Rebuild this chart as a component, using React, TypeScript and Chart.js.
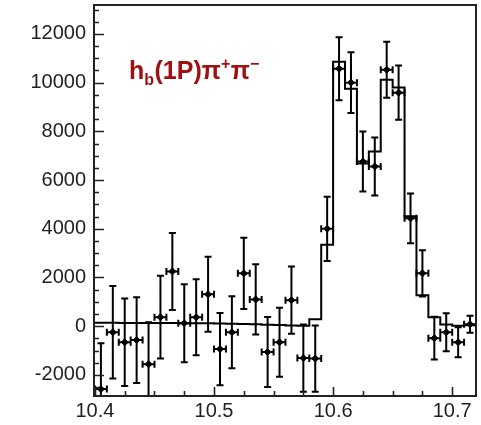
import React, { useEffect, useRef } from "react";
import { Chart, registerables } from "chart.js";

Chart.register(...registerables);

// Bin centres (GeV) of the measured points
const massCenters = [
  10.405, 10.415, 10.425, 10.435, 10.445, 10.455, 10.465, 10.475,
  10.485, 10.495, 10.505, 10.515, 10.525, 10.535, 10.545, 10.555,
  10.565, 10.575, 10.585, 10.595, 10.605, 10.615, 10.625, 10.635,
  10.645, 10.655, 10.665, 10.675, 10.685, 10.695, 10.705, 10.715,
];
// Measured yields
const yieldValues = [
  -2580, -250, -660, -570, -1560, 370, 2250, 120,
  370, 1310, -940, -250, 2170, 1100, -1060, -660,
  1070, -1310, -1330, 4000, 10570, 10000, 6760, 6560,
  10530, 9590, 4430, 2170, -490, -250, -660, 80,
];
// Vertical errors
const yieldErrors = [
  1880, 1900, 1800, 1760, 1720, 1700, 1580, 1600,
  1560, 1540, 1480, 1480, 1460, 1440, 1440, 1420,
  1380, 1380, 1360, 1320, 1290, 1250, 1230, 1190,
  1150, 1110, 1020, 950, 880, 780, 620, 350,
];
const halfBinWidth = 0.005;

// Fit histogram: bin edges and contents
const fitEdges = [
  10.40, 10.41, 10.42, 10.43, 10.44, 10.45, 10.46, 10.47, 10.48,
  10.49, 10.50, 10.51, 10.52, 10.53, 10.54, 10.55, 10.56, 10.57,
  10.58, 10.59, 10.60, 10.61, 10.62, 10.63, 10.64, 10.65, 10.66,
  10.67, 10.68, 10.69, 10.70, 10.71, 10.72,
];
const fitValues = [
  140, 138, 136, 134, 132, 130, 128, 126, 124,
  120, 112, 100, 90, 76, 60, 45, 30, 15,
  290, 3340, 10860, 9750, 6680, 7170, 10120, 9800, 4510,
  1270, 370, 70, 20, 40,
];

// Axes
const xTickValues = [10.4, 10.5, 10.6, 10.7];
const yTickValues = [-2000, 0, 2000, 4000, 6000, 8000, 10000, 12000];
const xMinorStep = 0.025;
const yMinorStep = 500;
const xRange = [10.3992, 10.72];
const yRange = [-2866, 13188];

// Label
const titleParts = [
  { text: "h", kind: "normal" },
  { text: "b", kind: "sub" },
  { text: "(1P)π", kind: "normal" },
  { text: "+", kind: "sup" },
  { text: "π", kind: "normal" },
  { text: "−", kind: "sup" },
];

const FONT = '"Liberation Sans", Arial, sans-serif';

const frameTicksPlugin = {
  id: "frameTicks",
  afterDraw(chart: any) {
    const { ctx, chartArea, scales } = chart;
    const { left, right, top, bottom } = chartArea;
    ctx.save();
    ctx.strokeStyle = "#222";
    ctx.lineWidth = 2;
    ctx.strokeRect(left, top, right - left, bottom - top);
    ctx.lineWidth = 1.6;
    ctx.beginPath();
    for (let v = -2500; v <= 13000; v += yMinorStep) {
      const py = Math.round(scales.y.getPixelForValue(v)) + 0.5;
      if (py < top || py > bottom) continue;
      const major = yTickValues.includes(v);
      ctx.moveTo(left, py);
      ctx.lineTo(left + (major ? 10 : 5), py);
    }
    for (let k = 0; k <= 13; k++) {
      const v = 10.4 + k * xMinorStep;
      const px = Math.round(scales.x.getPixelForValue(v)) + 0.5;
      if (px < left || px > right) continue;
      const major = k % 4 === 0;
      ctx.moveTo(px, bottom);
      ctx.lineTo(px, bottom - (major ? 9 : 5));
    }
    ctx.stroke();
    ctx.restore();
  },
};

const errorBarPlugin = {
  id: "errorBars",
  afterDatasetsDraw(chart: any) {
    const { ctx, chartArea, scales } = chart;
    ctx.save();
    ctx.beginPath();
    ctx.rect(chartArea.left, chartArea.top, chartArea.right - chartArea.left, chartArea.bottom - chartArea.top);
    ctx.clip();
    ctx.strokeStyle = "#000";
    ctx.lineWidth = 2;
    ctx.beginPath();
    massCenters.forEach((c, i) => {
      const px = scales.x.getPixelForValue(c);
      const py = scales.y.getPixelForValue(yieldValues[i]);
      const yHi = scales.y.getPixelForValue(yieldValues[i] + yieldErrors[i]);
      const yLo = scales.y.getPixelForValue(yieldValues[i] - yieldErrors[i]);
      const xL = scales.x.getPixelForValue(c - halfBinWidth);
      const xR = scales.x.getPixelForValue(c + halfBinWidth);
      ctx.moveTo(px, yHi);
      ctx.lineTo(px, yLo);
      ctx.moveTo(px - 3.5, yHi);
      ctx.lineTo(px + 3.5, yHi);
      ctx.moveTo(px - 3.5, yLo);
      ctx.lineTo(px + 3.5, yLo);
      ctx.moveTo(xL, py);
      ctx.lineTo(xR, py);
      ctx.moveTo(xL, py - 3.5);
      ctx.lineTo(xL, py + 3.5);
      ctx.moveTo(xR, py - 3.5);
      ctx.lineTo(xR, py + 3.5);
    });
    ctx.stroke();
    ctx.restore();
  },
};

const titlePlugin = {
  id: "titleLabel",
  afterDraw(chart: any) {
    const { ctx } = chart;
    ctx.save();
    ctx.fillStyle = "#a01010";
    ctx.textBaseline = "alphabetic";
    ctx.textAlign = "left";
    let x = 129;
    const base = 79;
    titleParts.forEach((p) => {
      const size = p.kind === "normal" ? 25 : 16;
      ctx.font = `bold ${size}px ${FONT}`;
      const y = p.kind === "sub" ? base + 6 : p.kind === "sup" ? base - 10 : base;
      ctx.fillText(p.text, x, y);
      x += ctx.measureText(p.text).width + (p.kind === "normal" ? 0 : 0.5);
    });
    ctx.restore();
  },
};

export default function App() {
  const canvasRef = useRef<HTMLCanvasElement | null>(null);

  useEffect(() => {
    const canvas = canvasRef.current;
    if (!canvas) return;
    const fitData = fitEdges.map((e, i) => ({
      x: e,
      y: fitValues[Math.min(i, fitValues.length - 1)],
    }));
    const pointData = massCenters.map((c, i) => ({ x: c, y: yieldValues[i] }));

    const chart = new Chart(canvas, {
      type: "scatter",
      data: {
        datasets: [
          {
            type: "line",
            data: fitData,
            stepped: "before",
            borderColor: "#000",
            borderWidth: 2,
            pointRadius: 0,
            fill: false,
            order: 1,
          } as any,
          {
            type: "scatter",
            data: pointData,
            pointStyle: "rectRot",
            pointRadius: 3.5,
            backgroundColor: "#000",
            borderColor: "#000",
            borderWidth: 1,
            order: 0,
          } as any,
        ],
      },
      options: {
        animation: false,
        responsive: false,
        maintainAspectRatio: false,
        devicePixelRatio: 1,
        layout: { padding: { top: 4, right: 2, left: 0, bottom: 0 } },
        plugins: {
          legend: { display: false },
          tooltip: { enabled: false },
          title: { display: false },
        },
        scales: {
          x: {
            type: "linear",
            min: xRange[0],
            max: xRange[1],
            grid: { display: false, drawTicks: false },
            border: { display: false },
            ticks: {
              font: { family: FONT, size: 20 },
              color: "#222",
              padding: 3,
              maxRotation: 0,
              autoSkip: false,
              callback: (v: any) => Number(v).toFixed(1),
            },
            afterBuildTicks: (s: any) => {
              s.ticks = xTickValues.map((v) => ({ value: v }));
            },
            afterFit: (s: any) => {
              s.height = 29;
              s.paddingLeft = 0;
              s.paddingRight = 0;
            },
          },
          y: {
            type: "linear",
            min: yRange[0],
            max: yRange[1],
            grid: { display: false, drawTicks: false },
            border: { display: false },
            ticks: {
              font: { family: FONT, size: 20 },
              color: "#222",
              padding: 8,
              autoSkip: false,
              callback: (v: any) => String(v),
            },
            afterBuildTicks: (s: any) => {
              s.ticks = yTickValues.map((v) => ({ value: v }));
            },
            afterFit: (s: any) => {
              s.width = 94;
              s.paddingTop = 0;
              s.paddingBottom = 0;
            },
          },
        },
      } as any,
      plugins: [frameTicksPlugin, errorBarPlugin, titlePlugin],
    });
    return () => chart.destroy();
  }, []);

  return (
    <div style={{ position: "absolute", left: 0, top: 0, width: 481, height: 425, background: "#fff" }}>
      <canvas ref={canvasRef} width={481} height={425} style={{ display: "block", width: 481, height: 425 }} />
    </div>
  );
}
